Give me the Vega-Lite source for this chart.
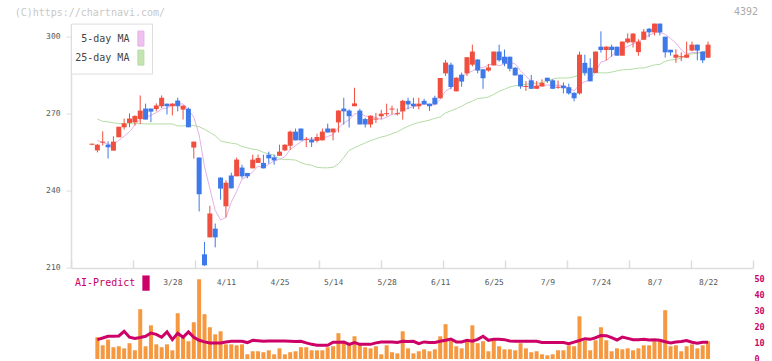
{
  "$schema": "https://vega.github.io/schema/vega-lite/v6.json",
  "background": "white",
  "padding": {"left": 14, "top": 6.6, "right": 0, "bottom": 0},
  "config": {
    "view": {"stroke": null},
    "axis": {"labelFont": "DejaVu Sans Mono", "grid": false, "title": null},
    "legend": {"labelFont": "DejaVu Sans Mono"},
    "title": {"font": "DejaVu Sans Mono", "fontWeight": "normal"}
  },
  "title": {"text": "(C)https://chartnavi.com/", "anchor": "start", "frame": "group", "dx": -56.3, "dy": 17, "offset": 6, "fontSize": 10, "color": "#c8c8c8"},
  "data": {"values": [
    {"i":0,"o":258.0,"h":258.4,"l":257.8,"c":258.4,"v":null,"ai":null,"m5":null,"m25":null},
    {"i":1,"o":255.8,"h":258.3,"l":255.0,"c":258.0,"v":13.5,"ai":12.0,"m5":259.7,"m25":268.0},
    {"i":2,"o":258.8,"h":263.2,"l":257.7,"c":259.2,"v":8.5,"ai":13.0,"m5":258.9,"m25":267.1},
    {"i":3,"o":258.0,"h":259.3,"l":252.6,"c":257.0,"v":12.0,"ai":14.1,"m5":258.1,"m25":266.9},
    {"i":4,"o":255.7,"h":261.3,"l":255.7,"c":259.2,"v":7.3,"ai":14.1,"m5":258.3,"m25":266.5},
    {"i":5,"o":260.9,"h":265.0,"l":260.9,"c":265.0,"v":7.9,"ai":14.3,"m5":259.7,"m25":266.3},
    {"i":6,"o":264.8,"h":268.2,"l":263.9,"c":266.3,"v":6.6,"ai":17.2,"m5":261.3,"m25":266.2},
    {"i":7,"o":266.5,"h":270.2,"l":264.8,"c":268.2,"v":9.8,"ai":13.5,"m5":263.1,"m25":266.2},
    {"i":8,"o":266.7,"h":269.5,"l":265.5,"c":269.2,"v":5.4,"ai":12.7,"m5":265.6,"m25":266.2},
    {"i":9,"o":268.0,"h":277.2,"l":266.1,"c":271.3,"v":30.9,"ai":13.3,"m5":268.0,"m25":266.2},
    {"i":10,"o":272.1,"h":274.0,"l":267.8,"c":267.8,"v":7.9,"ai":14.1,"m5":268.6,"m25":266.1},
    {"i":11,"o":272.1,"h":272.1,"l":266.8,"c":270.9,"v":20.9,"ai":16.1,"m5":269.5,"m25":266.1},
    {"i":12,"o":271.9,"h":274.1,"l":271.0,"c":273.3,"v":9.1,"ai":15.3,"m5":270.5,"m25":266.1},
    {"i":13,"o":273.0,"h":277.2,"l":272.3,"c":276.3,"v":7.3,"ai":13.5,"m5":271.9,"m25":266.1},
    {"i":14,"o":274.0,"h":274.0,"l":269.8,"c":273.0,"v":9.1,"ai":16.8,"m5":272.3,"m25":266.1},
    {"i":15,"o":273.0,"h":274.2,"l":269.4,"c":274.0,"v":5.4,"ai":12.0,"m5":273.5,"m25":266.1},
    {"i":16,"o":275.2,"h":276.3,"l":271.0,"c":273.0,"v":28.4,"ai":15.9,"m5":273.9,"m25":265.3},
    {"i":17,"o":271.7,"h":273.4,"l":267.8,"c":273.2,"v":13.5,"ai":13.5,"m5":273.9,"m25":265.3},
    {"i":18,"o":272.0,"h":272.5,"l":264.8,"c":264.8,"v":11.0,"ai":16.8,"m5":271.6,"m25":265.7},
    {"i":19,"o":256.9,"h":259.2,"l":252.6,"c":259.2,"v":22.8,"ai":13.5,"m5":268.8,"m25":265.5},
    {"i":20,"o":253.0,"h":253.0,"l":232.0,"c":238.7,"v":49.5,"ai":11.6,"m5":261.8,"m25":265.0},
    {"i":21,"o":215.3,"h":220.1,"l":210.8,"c":211.0,"v":27.8,"ai":10.6,"m5":249.4,"m25":264.0},
    {"i":22,"o":221.9,"h":234.2,"l":221.9,"c":231.2,"v":19.7,"ai":10.0,"m5":241.0,"m25":262.8},
    {"i":23,"o":225.3,"h":227.3,"l":218.0,"c":221.9,"v":15.3,"ai":10.0,"m5":232.4,"m25":261.5},
    {"i":24,"o":245.2,"h":245.3,"l":236.6,"c":240.9,"v":17.2,"ai":10.0,"m5":228.7,"m25":259.5},
    {"i":25,"o":234.0,"h":244.1,"l":229.7,"c":243.2,"v":9.1,"ai":10.6,"m5":229.6,"m25":259.0},
    {"i":26,"o":246.0,"h":247.1,"l":241.0,"c":241.0,"v":9.1,"ai":11.0,"m5":235.6,"m25":258.6},
    {"i":27,"o":245.7,"h":253.0,"l":245.7,"c":252.2,"v":8.5,"ai":11.0,"m5":239.8,"m25":258.3},
    {"i":28,"o":249.1,"h":250.2,"l":244.9,"c":245.7,"v":9.1,"ai":11.0,"m5":244.6,"m25":257.3},
    {"i":29,"o":247.0,"h":247.0,"l":244.9,"c":245.7,"v":2.9,"ai":10.2,"m5":245.6,"m25":256.8},
    {"i":30,"o":248.8,"h":254.1,"l":248.8,"c":252.2,"v":4.8,"ai":11.6,"m5":247.4,"m25":256.3},
    {"i":31,"o":250.9,"h":254.1,"l":250.9,"c":252.8,"v":4.8,"ai":11.3,"m5":249.7,"m25":256.0},
    {"i":32,"o":250.9,"h":254.1,"l":248.8,"c":248.8,"v":4.2,"ai":11.0,"m5":249.0,"m25":255.0},
    {"i":33,"o":254.1,"h":255.3,"l":250.6,"c":252.7,"v":5.4,"ai":11.2,"m5":250.4,"m25":254.4},
    {"i":34,"o":253.1,"h":254.1,"l":250.2,"c":251.9,"v":2.9,"ai":11.2,"m5":251.7,"m25":254.0},
    {"i":35,"o":253.7,"h":258.0,"l":253.7,"c":255.3,"v":6.6,"ai":11.2,"m5":252.3,"m25":252.5},
    {"i":36,"o":255.8,"h":258.2,"l":255.5,"c":258.0,"v":2.9,"ai":11.2,"m5":253.3,"m25":252.2},
    {"i":37,"o":257.6,"h":263.5,"l":256.0,"c":263.1,"v":4.2,"ai":11.0,"m5":256.2,"m25":252.2},
    {"i":38,"o":263.1,"h":264.3,"l":259.7,"c":259.7,"v":4.8,"ai":10.8,"m5":257.6,"m25":252.0},
    {"i":39,"o":264.3,"h":264.3,"l":259.7,"c":259.7,"v":7.3,"ai":11.0,"m5":259.2,"m25":251.0},
    {"i":40,"o":259.9,"h":261.0,"l":257.1,"c":260.3,"v":7.3,"ai":10.0,"m5":260.1,"m25":250.3},
    {"i":41,"o":260.0,"h":261.0,"l":257.1,"c":258.9,"v":5.4,"ai":9.1,"m5":260.3,"m25":250.0},
    {"i":42,"o":259.5,"h":262.3,"l":258.9,"c":261.0,"v":5.4,"ai":8.5,"m5":259.9,"m25":249.2},
    {"i":43,"o":259.7,"h":264.3,"l":259.7,"c":263.1,"v":5.4,"ai":8.5,"m5":260.6,"m25":249.0},
    {"i":44,"o":264.3,"h":266.2,"l":262.8,"c":262.8,"v":7.3,"ai":8.5,"m5":261.2,"m25":249.0},
    {"i":45,"o":262.8,"h":264.3,"l":259.7,"c":264.3,"v":7.9,"ai":10.4,"m5":262.0,"m25":249.2},
    {"i":46,"o":266.7,"h":271.5,"l":262.8,"c":271.3,"v":16.0,"ai":10.4,"m5":264.5,"m25":250.5},
    {"i":47,"o":272.1,"h":276.3,"l":265.8,"c":271.0,"v":11.0,"ai":10.6,"m5":266.5,"m25":253.0},
    {"i":48,"o":271.3,"h":271.8,"l":264.7,"c":269.1,"v":9.1,"ai":9.1,"m5":267.7,"m25":255.8},
    {"i":49,"o":273.0,"h":280.2,"l":273.0,"c":274.1,"v":14.1,"ai":10.2,"m5":270.0,"m25":256.8},
    {"i":50,"o":271.3,"h":272.0,"l":265.9,"c":265.9,"v":9.8,"ai":9.1,"m5":270.3,"m25":257.8},
    {"i":51,"o":268.0,"h":268.5,"l":264.7,"c":265.9,"v":7.3,"ai":9.1,"m5":269.2,"m25":258.7},
    {"i":52,"o":265.9,"h":269.5,"l":264.7,"c":269.3,"v":6.6,"ai":9.1,"m5":268.9,"m25":259.6},
    {"i":53,"o":267.8,"h":270.4,"l":266.5,"c":268.2,"v":7.9,"ai":10.0,"m5":268.6,"m25":260.3},
    {"i":54,"o":269.1,"h":271.6,"l":268.0,"c":270.1,"v":2.9,"ai":10.6,"m5":267.8,"m25":261.0},
    {"i":55,"o":269.9,"h":274.0,"l":269.1,"c":270.3,"v":8.5,"ai":10.6,"m5":268.7,"m25":261.5},
    {"i":56,"o":271.7,"h":273.2,"l":269.8,"c":272.1,"v":4.2,"ai":10.6,"m5":269.9,"m25":262.3},
    {"i":57,"o":269.9,"h":272.1,"l":269.4,"c":270.3,"v":3.5,"ai":10.2,"m5":270.0,"m25":263.0},
    {"i":58,"o":271.0,"h":275.5,"l":267.8,"c":275.1,"v":17.2,"ai":11.0,"m5":271.5,"m25":264.2},
    {"i":59,"o":275.1,"h":276.3,"l":271.8,"c":273.7,"v":6.6,"ai":10.8,"m5":272.2,"m25":265.2},
    {"i":60,"o":274.0,"h":276.3,"l":272.0,"c":273.0,"v":3.5,"ai":11.0,"m5":272.8,"m25":266.0},
    {"i":61,"o":273.0,"h":276.3,"l":271.8,"c":274.0,"v":4.8,"ai":9.5,"m5":273.2,"m25":266.7},
    {"i":62,"o":275.1,"h":275.9,"l":273.7,"c":273.7,"v":6.0,"ai":10.6,"m5":273.9,"m25":267.1},
    {"i":63,"o":274.0,"h":274.0,"l":271.2,"c":273.0,"v":4.8,"ai":10.2,"m5":273.5,"m25":267.6},
    {"i":64,"o":276.3,"h":277.1,"l":273.7,"c":273.7,"v":6.0,"ai":10.2,"m5":273.5,"m25":268.3},
    {"i":65,"o":276.1,"h":284.0,"l":276.0,"c":284.0,"v":14.1,"ai":11.0,"m5":275.7,"m25":268.8},
    {"i":66,"o":285.8,"h":291.0,"l":284.8,"c":290.0,"v":21.6,"ai":11.6,"m5":278.9,"m25":270.4},
    {"i":67,"o":289.2,"h":290.0,"l":279.6,"c":280.5,"v":11.6,"ai":12.4,"m5":280.2,"m25":271.2},
    {"i":68,"o":278.8,"h":284.3,"l":278.8,"c":284.1,"v":7.9,"ai":10.6,"m5":282.5,"m25":272.0},
    {"i":69,"o":285.3,"h":286.1,"l":280.6,"c":282.6,"v":6.6,"ai":10.6,"m5":284.2,"m25":273.0},
    {"i":70,"o":285.8,"h":292.2,"l":284.8,"c":292.1,"v":12.2,"ai":11.6,"m5":285.9,"m25":274.2},
    {"i":71,"o":289.2,"h":297.0,"l":288.5,"c":294.3,"v":20.9,"ai":11.0,"m5":286.7,"m25":275.0},
    {"i":72,"o":291.2,"h":291.4,"l":285.8,"c":286.9,"v":9.8,"ai":12.2,"m5":288.0,"m25":276.0},
    {"i":73,"o":287.4,"h":287.4,"l":279.8,"c":283.9,"v":11.0,"ai":14.1,"m5":288.0,"m25":276.2},
    {"i":74,"o":286.9,"h":289.5,"l":286.5,"c":288.1,"v":4.8,"ai":11.6,"m5":289.1,"m25":276.6},
    {"i":75,"o":288.9,"h":294.3,"l":288.9,"c":294.3,"v":11.6,"ai":12.2,"m5":289.5,"m25":277.6},
    {"i":76,"o":294.3,"h":297.0,"l":290.4,"c":290.9,"v":7.9,"ai":12.2,"m5":288.8,"m25":278.8},
    {"i":77,"o":292.3,"h":295.1,"l":288.6,"c":289.6,"v":6.0,"ai":12.0,"m5":289.4,"m25":279.6},
    {"i":78,"o":292.3,"h":292.3,"l":286.6,"c":287.6,"v":6.0,"ai":11.2,"m5":290.1,"m25":280.5},
    {"i":79,"o":288.0,"h":288.2,"l":285.0,"c":285.0,"v":5.4,"ai":11.0,"m5":289.5,"m25":281.0},
    {"i":80,"o":285.3,"h":285.3,"l":279.8,"c":280.7,"v":9.8,"ai":11.0,"m5":286.8,"m25":281.3},
    {"i":81,"o":280.5,"h":282.8,"l":279.0,"c":280.9,"v":6.6,"ai":11.0,"m5":284.7,"m25":281.5},
    {"i":82,"o":283.1,"h":285.2,"l":279.8,"c":279.8,"v":4.2,"ai":11.0,"m5":282.8,"m25":281.8},
    {"i":83,"o":279.8,"h":282.8,"l":279.8,"c":281.0,"v":4.8,"ai":11.0,"m5":281.4,"m25":282.0},
    {"i":84,"o":280.7,"h":283.5,"l":280.7,"c":282.1,"v":2.9,"ai":10.2,"m5":280.9,"m25":282.2},
    {"i":85,"o":284.1,"h":284.1,"l":282.1,"c":282.8,"v":2.3,"ai":10.2,"m5":281.3,"m25":282.8},
    {"i":86,"o":283.1,"h":283.5,"l":279.8,"c":279.8,"v":2.9,"ai":10.2,"m5":281.1,"m25":283.6},
    {"i":87,"o":280.2,"h":283.0,"l":279.8,"c":280.6,"v":5.4,"ai":10.2,"m5":281.2,"m25":284.0},
    {"i":88,"o":281.0,"h":282.3,"l":278.0,"c":280.0,"v":5.4,"ai":10.2,"m5":281.0,"m25":284.0},
    {"i":89,"o":280.4,"h":281.8,"l":277.5,"c":278.0,"v":8.5,"ai":9.5,"m5":280.2,"m25":284.0},
    {"i":90,"o":278.2,"h":278.5,"l":274.9,"c":276.1,"v":7.9,"ai":10.5,"m5":278.9,"m25":284.5},
    {"i":91,"o":278.0,"h":294.3,"l":277.5,"c":293.1,"v":26.5,"ai":11.5,"m5":281.5,"m25":285.2},
    {"i":92,"o":289.9,"h":293.1,"l":284.9,"c":286.0,"v":11.6,"ai":12.6,"m5":282.6,"m25":285.8},
    {"i":93,"o":288.0,"h":291.7,"l":282.7,"c":282.7,"v":5.4,"ai":12.2,"m5":283.2,"m25":286.0},
    {"i":94,"o":286.0,"h":294.3,"l":286.0,"c":294.3,"v":11.6,"ai":13.2,"m5":286.4,"m25":286.0},
    {"i":95,"o":296.2,"h":302.2,"l":293.9,"c":294.9,"v":19.7,"ai":14.6,"m5":290.2,"m25":286.0},
    {"i":96,"o":294.9,"h":296.5,"l":290.9,"c":296.2,"v":11.6,"ai":14.5,"m5":290.8,"m25":286.0},
    {"i":97,"o":296.2,"h":297.0,"l":292.3,"c":294.9,"v":4.8,"ai":13.3,"m5":292.6,"m25":286.3},
    {"i":98,"o":296.2,"h":296.2,"l":292.7,"c":292.7,"v":6.6,"ai":11.8,"m5":294.6,"m25":286.8},
    {"i":99,"o":292.7,"h":298.2,"l":292.7,"c":298.2,"v":6.0,"ai":13.6,"m5":295.4,"m25":287.2},
    {"i":100,"o":297.9,"h":301.4,"l":297.5,"c":299.4,"v":6.6,"ai":12.8,"m5":296.3,"m25":287.3},
    {"i":101,"o":297.9,"h":301.5,"l":295.9,"c":301.3,"v":5.4,"ai":12.0,"m5":297.3,"m25":287.5},
    {"i":102,"o":294.1,"h":299.1,"l":292.7,"c":298.2,"v":6.6,"ai":12.0,"m5":298.0,"m25":287.9},
    {"i":103,"o":298.9,"h":303.1,"l":298.9,"c":302.1,"v":8.5,"ai":12.3,"m5":299.8,"m25":287.9},
    {"i":104,"o":303.2,"h":303.5,"l":299.9,"c":301.8,"v":8.5,"ai":11.8,"m5":300.6,"m25":288.5},
    {"i":105,"o":301.8,"h":305.2,"l":300.6,"c":305.2,"v":11.0,"ai":12.0,"m5":301.7,"m25":289.1},
    {"i":106,"o":305.2,"h":305.2,"l":300.6,"c":301.8,"v":11.0,"ai":11.6,"m5":301.8,"m25":289.3},
    {"i":107,"o":300.1,"h":300.1,"l":292.0,"c":294.0,"v":30.3,"ai":10.7,"m5":301.0,"m25":290.5},
    {"i":108,"o":295.0,"h":295.0,"l":292.7,"c":294.0,"v":7.9,"ai":10.0,"m5":299.4,"m25":291.0},
    {"i":109,"o":291.9,"h":295.2,"l":289.9,"c":293.1,"v":8.5,"ai":10.5,"m5":297.6,"m25":291.3},
    {"i":110,"o":292.1,"h":294.0,"l":290.6,"c":292.5,"v":4.8,"ai":10.8,"m5":295.0,"m25":291.7},
    {"i":111,"o":291.9,"h":298.2,"l":291.9,"c":293.1,"v":7.9,"ai":11.5,"m5":293.3,"m25":293.0},
    {"i":112,"o":294.7,"h":298.2,"l":294.4,"c":297.0,"v":9.1,"ai":10.4,"m5":293.9,"m25":293.4},
    {"i":113,"o":297.0,"h":297.0,"l":290.9,"c":294.7,"v":6.6,"ai":9.8,"m5":294.0,"m25":293.6},
    {"i":114,"o":294.3,"h":294.3,"l":289.8,"c":290.9,"v":8.5,"ai":10.4,"m5":293.6,"m25":294.2},
    {"i":115,"o":291.9,"h":298.2,"l":291.9,"c":297.0,"v":11.0,"ai":10.4,"m5":294.5,"m25":294.5}
  ]},
  "spacing": 0,
  "bounds": "flush",
  "resolve": {"scale": {"x": "independent", "y": "independent", "color": "independent"}, "legend": {"color": "independent"}},
  "vconcat": [
    {
      "width": 682,
      "height": 244.3,
      "title": {"text": "4392", "anchor": "end", "frame": "group", "dx": 5, "offset": 6, "fontSize": 10, "color": "#aaaaaa"},
      "encoding": {
        "x": {"field": "i", "type": "quantitative",
          "scale": {"domain": [-3.92, 123.39], "nice": false, "zero": false, "padding": 0},
          "axis": {"values": [-3.92, 7.65, 19.23, 30.8, 42.38, 53.95, 65.52, 77.1, 88.67, 100.25, 111.82, 123.39], "labels": false, "tickSize": -8, "domainColor": "#dddddd", "tickColor": "#dddddd", "domainWidth": 1.5, "tickWidth": 1.5}}
      },
      "layer": [
        {"mark": {"type": "line", "strokeWidth": 1},
          "encoding": {
            "y": {"field": "m5", "type": "quantitative",
              "scale": {"domain": [210, 305.2], "nice": false, "zero": false},
              "axis": {"values": [210, 240, 270, 300], "tickSize": 5, "labelPadding": 6, "domainColor": "#dddddd", "tickColor": "#dddddd", "domainWidth": 1.5, "labelColor": "#555555", "labelFontSize": 8}},
            "color": {"datum": "5-day MA", "type": "nominal",
              "scale": {"domain": ["5-day MA", "25-day MA"], "range": ["#e4b0e8", "#b4dca4"]},
              "legend": {"orient": "top-left", "offset": 0, "title": null, "padding": 6, "strokeColor": "#dddddd", "fillColor": "white",
                "symbolType": "M-0.353,-0.882L0.353,-0.882L0.353,0.882L-0.353,0.882Z", "symbolSize": 289,
                "labelAlign": "right", "labelOffset": -20.5, "symbolOffset": 54.9, "labelFontSize": 10, "labelColor": "#444444", "rowPadding": -5,
                "encode": {"symbols": {"update": {"fill": {"signal": "datum.value === '5-day MA' ? '#f0c0f0' : '#c4e4b4'"}, "stroke": {"value": "#555555"}, "strokeWidth": {"value": 1}, "opacity": {"value": 1}}}}}}
          }},
        {"mark": {"type": "line", "strokeWidth": 1},
          "encoding": {"y": {"field": "m25", "type": "quantitative"}, "color": {"datum": "25-day MA", "type": "nominal"}}},
        {"mark": {"type": "rule", "strokeWidth": 1},
          "encoding": {
            "y": {"field": "l", "type": "quantitative"}, "y2": {"field": "h"},
            "color": {"condition": {"test": "datum.c >= datum.o", "value": "#f04e3e"}, "value": "#3f78e8"}}},
        {"mark": {"type": "bar", "width": 5},
          "encoding": {
            "y": {"field": "o", "type": "quantitative"}, "y2": {"field": "c"},
            "color": {"condition": {"test": "datum.c >= datum.o", "value": "#f04e3e"}, "value": "#3f78e8"}}}
      ]
    },
    {
      "width": 682,
      "height": 90.4,
      "encoding": {
        "x": {"field": "i", "type": "quantitative",
          "scale": {"domain": [-3.92, 123.39], "nice": false, "zero": false, "padding": 0},
          "axis": {"orient": "top", "values": [15, 25, 35, 45, 55, 65, 75, 85, 95, 105, 115],
            "labelExpr": "['3/28','4/11','4/25','5/14','5/28','6/11','6/25','7/9','7/24','8/7','8/22'][round((datum.value-15)/10)]",
            "ticks": false, "domain": false, "labelPadding": -13.7, "labelBaseline": "middle", "labelFlush": false,
            "labelFontSize": 8, "labelColor": "#555555"}}
      },
      "layer": [
        {"mark": {"type": "bar", "width": 4, "color": "#f5983f"},
          "encoding": {
            "y": {"field": "v", "type": "quantitative",
              "scale": {"domain": [0, 56.1], "nice": false},
              "axis": {"orient": "right", "values": [0, 10, 20, 30, 40, 50], "tickCount": 6, "ticks": false, "domain": false, "labelPadding": 1, "labelOverlap": false, "labelColor": "#cc0066", "labelFontSize": 8.5, "labelFontWeight": "bold"}}}},
        {"mark": {"type": "line", "strokeWidth": 3},
          "encoding": {
            "y": {"field": "ai", "type": "quantitative",
              "axis": {"orient": "right", "values": [0, 10, 20, 30, 40, 50], "tickCount": 6, "ticks": false, "domain": false, "labelPadding": 1, "labelOverlap": false, "labelColor": "#cc0066", "labelFontSize": 8.5, "labelFontWeight": "bold"}},
            "color": {"datum": "AI-Predict", "type": "nominal",
              "scale": {"domain": ["AI-Predict"], "range": ["#cc0066"]},
              "legend": {"orient": "top-left", "offset": 0, "title": null, "padding": 6,
                "symbolType": "M-0.43,-0.9L0.43,-0.9L0.43,0.9L-0.43,0.9Z", "symbolSize": 289,
                "labelAlign": "right", "labelOffset": -19.3, "symbolOffset": 60.5, "labelFontSize": 10, "labelColor": "#cc0066",
                "encode": {"symbols": {"update": {"fill": {"value": "#cc0066"}, "stroke": {"value": "#cc0066"}, "strokeWidth": {"value": 0}, "opacity": {"value": 1}}}}}}
          }}
      ]
    }
  ]
}
